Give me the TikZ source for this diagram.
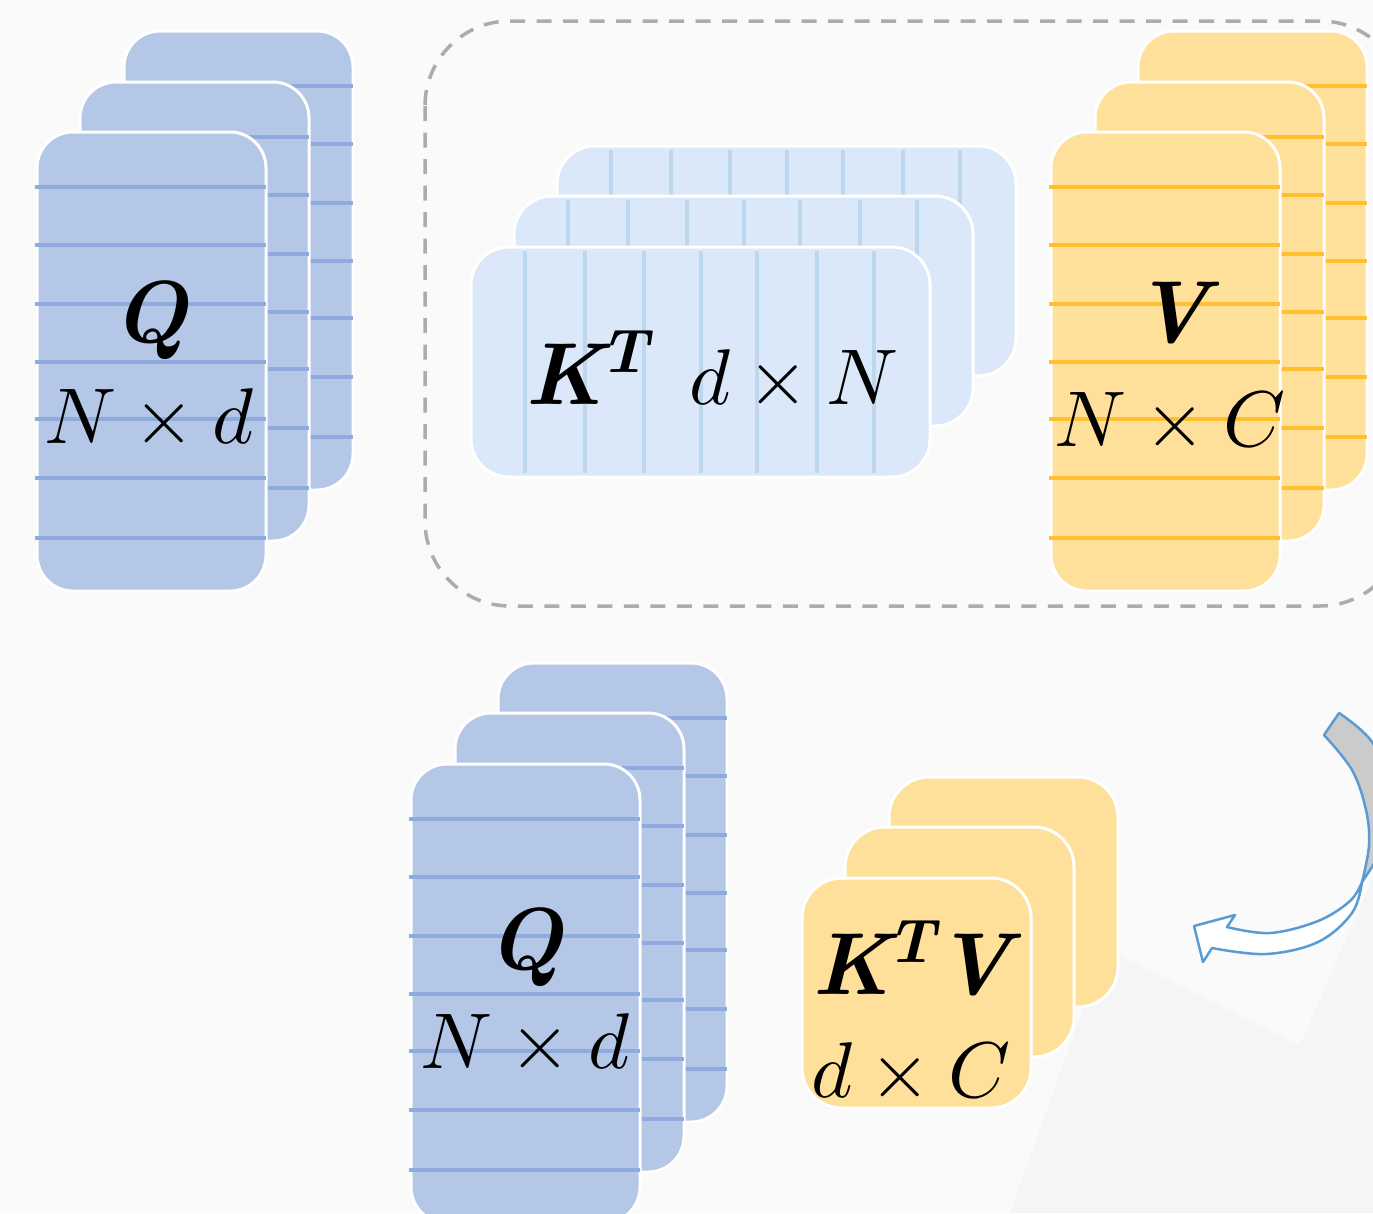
\documentclass[tikz,border=0pt]{standalone}

\definecolor{bgpaper}{HTML}{FAFAFA}
\definecolor{bgshade}{HTML}{F5F5F5}
\definecolor{qfill}{HTML}{B4C7E7}
\definecolor{qline}{HTML}{8FAADC}
\definecolor{kfill}{HTML}{DAE8FA}
\definecolor{kline}{HTML}{BDD7EE}
\definecolor{vfill}{HTML}{FFE09B}
\definecolor{vline}{HTML}{FFBF2E}
\definecolor{framegray}{HTML}{AEABAB}
\definecolor{arrowblue}{HTML}{5B9BD5}
\definecolor{arrowgray}{HTML}{CBCBCB}

\tikzset{
  cardbox/.style={draw=white, line width=3},
  stripe/.style={line width=3.5},
  mtext/.style={anchor=base, inner sep=0pt, text=black},
  boldtext/.style={mtext, scale=8.8},
  plaintext/.style={mtext, scale=7.9},
  groupframe/.style={draw=framegray, line width=3.5, dash pattern=on 15 off 11.5, rounded corners=85},
  bentarrow/.style={draw=arrowblue, line width=2.5, line join=round}
}

% tall matrix sheet with horizontal row rules: x, y, fill, rule colour
\newcommand\tallcard[4]{%
  \path[cardbox, rounded corners=36, fill=#3] (#1,#2) rectangle ++(229,459);
  \foreach \dy in {55,113,172,230,287,346,406}
    \draw[stripe, draw=#4] ({#1-2},{#2+\dy}) -- ++(231,0);
}
% wide matrix sheet with vertical column rules: x, y, fill, rule colour
\newcommand\widecard[4]{%
  \path[cardbox, rounded corners=38, fill=#3] (#1,#2) rectangle ++(459,230);
  \foreach \dx in {54,114,173,230,286,346,403}
    \draw[stripe, draw=#4] ({#1+\dx},{#2+4}) -- ++(0,222);
}
% small square sheet without rules: x, y, fill
\newcommand\squarecard[3]{%
  \path[cardbox, rounded corners=40, fill=#3] (#1,#2) rectangle ++(229,230);
}

% bold italic matrix letters
\newcommand\mbit[1]{{\bfseries\itshape #1}}

\begin{document}
\begin{tikzpicture}[x=1pt, y=-1pt]
  \useasboundingbox (0,0) rectangle (1373,1213);
  \clip (0,0) rectangle (1373,1213);

  % paper
  \fill[bgpaper] (0,0) rectangle (1373,1213);
  \fill[bgshade] (1105,948) -- (1300,1045) -- (1373,878) -- (1373,1213) -- (1010,1213) -- cycle;

  % dashed group around K^T and V
  \draw[groupframe] (425,21) rectangle (1405,606);

  % Q (top left)
  \tallcard{124}{31}{qfill}{qline}
  \tallcard{80}{82}{qfill}{qline}
  \tallcard{37}{132}{qfill}{qline}
  \node[boldtext] (qtop) at (150,342) {\mbit{Q}};
  \node[plaintext] (qtopdim) at (149,443) {$N\times d$};

  % K^T
  \widecard{557}{146}{kfill}{kline}
  \widecard{514}{196}{kfill}{kline}
  \widecard{471}{247}{kfill}{kline}
  \node[boldtext, anchor=base west] (kt) at (524,404) {\mbit{K\kern-.06em\textsuperscript{T}}};
  \node[plaintext] (ktdim) at (794,404) {$d\times N$};

  % V
  \tallcard{1138}{31}{vfill}{vline}
  \tallcard{1095}{82}{vfill}{vline}
  \tallcard{1051}{132}{vfill}{vline}
  \node[boldtext] (v) at (1172,342) {\mbit{V}};
  \node[plaintext] (vdim) at (1170,446) {$N\times C$};

  % Q (bottom)
  \tallcard{498}{663}{qfill}{qline}
  \tallcard{455}{713}{qfill}{qline}
  \tallcard{411}{764}{qfill}{qline}
  \node[boldtext] (qbot) at (525,969) {\mbit{Q}};
  \node[plaintext] (qbotdim) at (525,1068) {$N\times d$};

  % K^T V
  \squarecard{889}{777}{vfill}
  \squarecard{845}{827}{vfill}
  \squarecard{802}{878}{vfill}
  \node[boldtext] (ktv) at (912,994) {\mbit{K\kern-.06em\textsuperscript{T}\kern-.05em V}};
  \node[plaintext] (ktvdim) at (911,1097) {$d\times C$};

  % curved arrow: shaded back of the band, then the white front with its head
  \filldraw[bentarrow, fill=arrowgray]
    plot[smooth, tension=0.6] coordinates {(1339,713) (1372,742) (1390,790) (1390,835) (1375,862) (1362,882)}
    -- plot[smooth, tension=0.6] coordinates {(1362,882) (1369,845) (1366,810) (1352,770) (1324,735)}
    -- cycle;
  \filldraw[bentarrow, fill=white]
    plot[smooth, tension=0.6] coordinates {(1362,882) (1350,901) (1318,921) (1270,933) (1227,927)}
    -- (1235,915) -- (1194,926) -- (1203,962) -- (1212,948)
    -- plot[smooth, tension=0.6] coordinates {(1212,948) (1266,954) (1318,942) (1352,913) (1362,882)}
    -- cycle;
\end{tikzpicture}
\end{document}
